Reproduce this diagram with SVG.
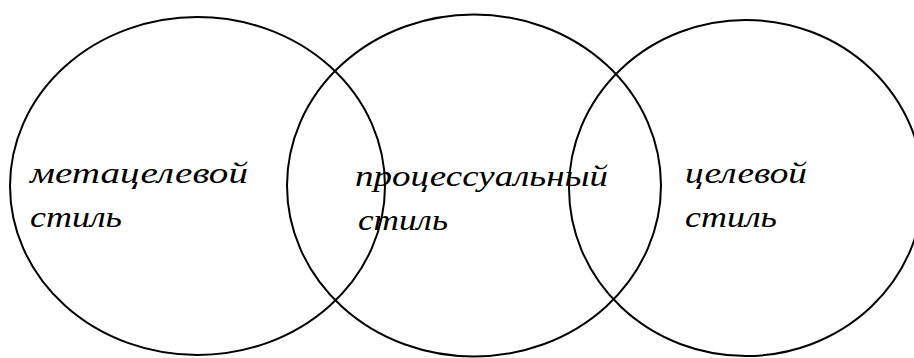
<svg xmlns="http://www.w3.org/2000/svg" width="914" height="358" viewBox="0 0 914 358">
<style>
.c{fill:none;stroke:#000;stroke-width:2}
.t{font-family:"Liberation Serif","DejaVu Serif",serif;font-style:italic;font-size:29px;fill:#000}
</style>
<rect width="914" height="358" fill="#fff"/>
<g id="connectors"></g>
<g id="meta">
<ellipse class="c" cx="197.5" cy="186" rx="187.5" ry="169"/>
<text class="t" x="30" y="183" textLength="218" lengthAdjust="spacingAndGlyphs">метацелевой</text>
<text class="t" x="30" y="227" textLength="92" lengthAdjust="spacingAndGlyphs">стиль</text>
</g>
<g id="process">
<ellipse class="c" cx="474" cy="185.5" rx="187" ry="171"/>
<text class="t" x="355" y="186" textLength="253" lengthAdjust="spacingAndGlyphs">процессуальный</text>
<text class="t" x="358" y="230" textLength="90" lengthAdjust="spacingAndGlyphs">стиль</text>
</g>
<g id="target">
<ellipse class="c" cx="746" cy="188" rx="177" ry="168"/>
<text class="t" x="685" y="183" textLength="122" lengthAdjust="spacingAndGlyphs">целевой</text>
<text class="t" x="685" y="227" textLength="92" lengthAdjust="spacingAndGlyphs">стиль</text>
</g>
</svg>
